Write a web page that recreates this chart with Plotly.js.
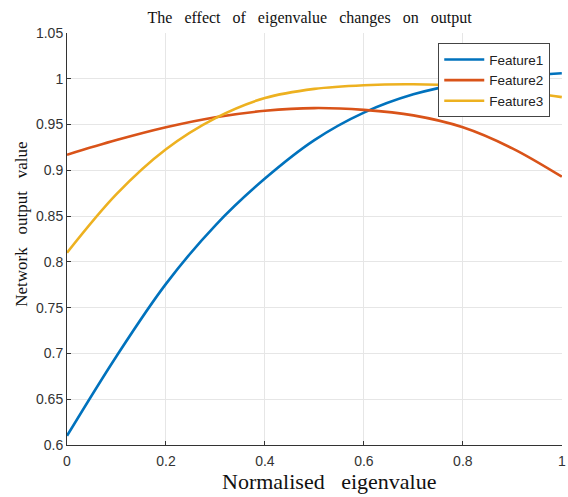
<!DOCTYPE html>
<html>
<head>
<meta charset="utf-8">
<script src="https://cdn.plot.ly/plotly-3.0.1.min.js"></script>
<style>
  html, body { margin: 0; padding: 0; background: #ffffff; }
  #chart { width: 568px; height: 497px; }
</style>
</head>
<body>
<div id="chart"></div>
<script>
// Normalised eigenvalue samples
const eigen = [0, 0.1, 0.2, 0.3, 0.4, 0.5, 0.6, 0.7, 0.8, 0.9, 1.0];

// Network output for each feature
const feature1 = [0.610, 0.697, 0.776, 0.840, 0.891, 0.933, 0.963, 0.983, 0.995, 1.002, 1.006];
const feature2 = [0.917, 0.933, 0.947, 0.958, 0.965, 0.968, 0.966, 0.960, 0.947, 0.924, 0.893];
const feature3 = [0.810, 0.874, 0.923, 0.957, 0.979, 0.989, 0.993, 0.994, 0.992, 0.987, 0.980];

const seriesNames = ['Feature1', 'Feature2', 'Feature3'];
const seriesColors = ['#0072BD', '#D95319', '#EDB120'];

const xTicks = [0, 0.2, 0.4, 0.6, 0.8, 1];
const xTickText = ['0', '0.2', '0.4', '0.6', '0.8', '1'];
const yTicks = [0.6, 0.65, 0.7, 0.75, 0.8, 0.85, 0.9, 0.95, 1, 1.05];
const yTickText = ['0.6', '0.65', '0.7', '0.75', '0.8', '0.85', '0.9', '0.95', '1', '1.05'];

const ys = [feature1, feature2, feature3];
const traces = ys.map((y, i) => ({
  x: eigen,
  y: y,
  name: seriesNames[i],
  type: 'scatter',
  mode: 'lines',
  line: { color: seriesColors[i], width: 2.6, shape: 'spline', smoothing: 1 }
}));

// wide word spacing used in the serif labels
const gap = (n) => '\u00a0'.repeat(n) + ' ';
const serif = 'Liberation Serif, Times New Roman, serif';
const sans = 'Liberation Sans, Arial, sans-serif';

const axisCommon = {
  ticks: 'inside',
  ticklen: 4,
  tickcolor: '#333333',
  tickfont: { family: sans, size: 14, color: '#333333' },
  ticklabeloverflow: 'allow',
  showgrid: true,
  gridcolor: '#e6e6e6',
  gridwidth: 1,
  zeroline: false,
  showline: true,
  linecolor: '#333333',
  linewidth: 1
};

const layout = {
  width: 568,
  height: 497,
  margin: { l: 67, r: 6, t: 33, b: 52 },
  paper_bgcolor: '#ffffff',
  plot_bgcolor: '#ffffff',
  showlegend: true,
  title: {
    text: ['The', 'effect', 'of', 'eigenvalue', 'changes', 'on', 'output'].join(gap(2)),
    font: { family: serif, size: 16, color: '#111111' },
    x: 0.545, xanchor: 'center',
    y: 0.965, yanchor: 'middle'
  },
  xaxis: Object.assign({}, axisCommon, {
    range: [0, 1.0004],
    tickvals: xTicks,
    ticktext: xTickText,
    ticklabelstandoff: 3
  }),
  yaxis: Object.assign({}, axisCommon, {
    range: [0.6, 1.05],
    tickvals: yTicks,
    ticktext: yTickText
  }),
  annotations: [
    {
      text: ['Normalised', 'eigenvalue'].join(gap(2)),
      xref: 'paper', yref: 'paper',
      x: 0.53, y: -0.088,
      xanchor: 'center', yanchor: 'middle',
      showarrow: false,
      font: { family: serif, size: 22, color: '#111111' }
    },
    {
      text: ['Network', 'output', 'value'].join(gap(2)),
      xref: 'paper', yref: 'paper',
      x: -0.091, y: 0.537,
      xanchor: 'center', yanchor: 'middle',
      textangle: -90,
      showarrow: false,
      font: { family: serif, size: 17, color: '#111111' }
    }
  ],
  legend: {
    x: 0.75, xanchor: 'left',
    y: 0.975, yanchor: 'top',
    bgcolor: '#ffffff',
    bordercolor: '#444444',
    borderwidth: 1,
    font: { family: sans, size: 13.5, color: '#222222' },
    tracegroupgap: 0,
    itemwidth: 40
  }
};

Plotly.newPlot('chart', traces, layout, { displayModeBar: false, staticPlot: true });
</script>
</body>
</html>
